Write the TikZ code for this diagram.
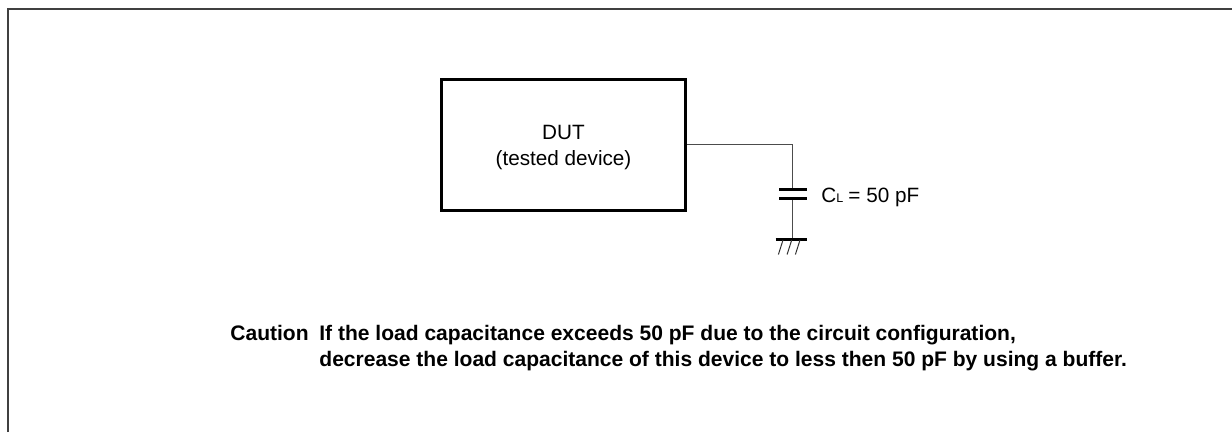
\documentclass[tikz,border=0pt]{standalone}
\usepackage{fontspec}
\setmainfont{Liberation Sans}
\usepackage{tikz}
\usetikzlibrary{positioning}

\begin{document}
\begin{tikzpicture}[x=1pt,y=-1pt,thick,
  dut node/.style={rectangle,draw,line width=3pt,minimum width=244pt,minimum height=131pt},
  dut text/.style={inner sep=0pt,align=center,font=\fontsize{20.7}{26}\selectfont},
  label node/.style={inner sep=0pt,anchor=base west,font=\fontsize{20.7}{26}\selectfont},
  note node/.style={inner sep=0pt,anchor=base west,font=\fontsize{21.03}{26}\selectfont\bfseries},
  wire/.style={line width=1pt,black!70},
  plate/.style={line width=2.5pt,black}]
  \useasboundingbox (0,0) rectangle (1232,432);

  % frame, open at the right and the bottom
  \coordinate (FL) at (8,432);
  \coordinate (FT) at (8,9);
  \coordinate (FR) at (1232,9);
  \draw[line width=2pt,black!75] (FL) -- (FT) -- (FR);

  \node[dut node] (DUT) at (563.5,144.7) {};
  \node[dut text] (DUTtext) at (563.5,147.7) {DUT\\(tested device)};

  % load capacitor
  \coordinate (corner) at (792.7,144);
  \coordinate (plateA) at (792.7,189.3);
  \coordinate (plateB) at (792.7,198.3);
  \coordinate (gnd) at (792.7,239.5);
  \draw[wire] (DUT.east |- corner) -- (corner) -- (plateA);
  \draw[wire] (plateB) -- (gnd);
  \draw[plate] (779,189.3) -- (806.5,189.3);
  \draw[plate] (779,198.3) -- (806.5,198.3);
  \draw[plate] (775.7,239.5) -- (807,239.5);
  \foreach \x in {783,791.7,800}
    \draw[line width=1pt,black!80] (\x,240) -- (\x-4.6,254.5);

  \node[label node] (CL) at (821,202) {C{\fontsize{12.5}{12.5}\selectfont L}\hspace{-0.6pt} = 50 pF};

  \node[note node] (caution) at (230,340) {Caution};
  \node[note node] (lineA) at (319,340) {If the load capacitance exceeds 50 pF due to the circuit configuration,};
  \node[note node] (lineB) at (319,366) {decrease the load capacitance of this device to less then 50 pF by using a buffer.};
\end{tikzpicture}
\end{document}
